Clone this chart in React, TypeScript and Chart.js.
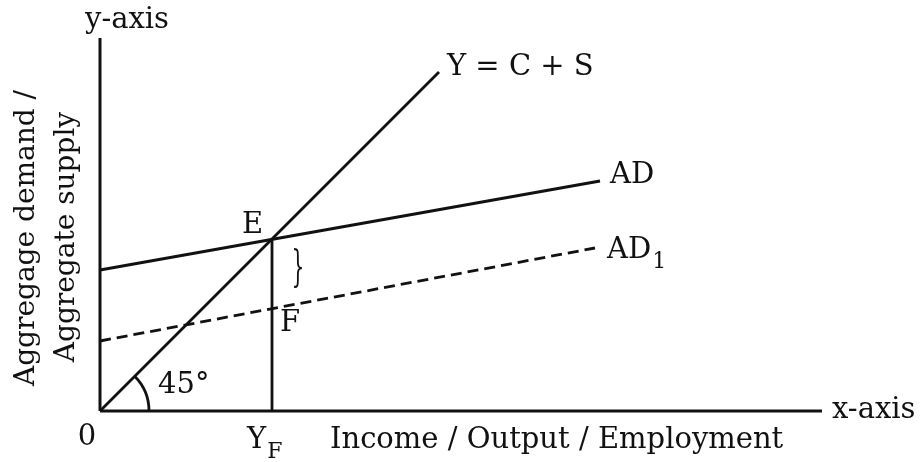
import React, { useEffect, useRef } from "react";
import { Chart, registerables } from "chart.js";

Chart.register(...registerables);

// Data in diagram units (origin at 0,0)
const yAxisLine = [{ x: 0, y: 0 }, { x: 0, y: 37.3 }];
const xAxisLine = [{ x: 0, y: 0 }, { x: 72.2, y: 0 }];
const supplyLine = [{ x: 0, y: 0 }, { x: 33.9, y: 33.9 }]; // Y = C + S (45°)
const adLine = [{ x: 0, y: 14.1 }, { x: 50.0, y: 23.0 }];
const ad1Line = [{ x: 0, y: 7.0 }, { x: 49.5, y: 16.3 }];
const yfLine = [{ x: 17.2, y: 0 }, { x: 17.2, y: 17.2 }];
const angleArcRadius = 4.9;
const angleDegrees = 45;

// Text labels
const labelTexts = ["y-axis", "Y = C + S", "AD", "AD", "E", "F", "45°", "0", "Y", "Income / Output / Employment", "x-axis"];
const labelSubs = ["", "", "", "1", "", "", "", "", "F", "", ""];
const labelX = [-1.5, 34.7, 51.0, 50.7, 14.2, 18.0, 5.8, -1.3, 14.7, 23.0, 73.2];
const labelY = [39.1, 34.4, 23.6, 16.1, 18.6, 8.8, 2.6, -2.6, -2.9, -2.9, 0.1];
const labelAlign = ["left", "left", "left", "left", "left", "left", "left", "center", "left", "left", "left"];
const bracePos = { x: 19.8, y: 14.1 };
const yTitleLines = ["Aggregage demand /", "Aggregate supply"];
const yTitleX = [-7.3, -3.3];
const yTitleY = [17.3, 17.4];

const FONT = "'DejaVu Serif', 'Liberation Serif', serif";
const FS = 29;

const annotations = {
  id: "annotations",
  afterDatasetsDraw(chart: any) {
    const { ctx, scales } = chart;
    const xs = scales.x;
    const ys = scales.y;
    const px = (v: number) => xs.getPixelForValue(v);
    const py = (v: number) => ys.getPixelForValue(v);
    ctx.save();
    // 45° angle arc
    const ox = px(0), oy = py(0);
    const r = px(angleArcRadius) - ox;
    ctx.beginPath();
    ctx.strokeStyle = "#111";
    ctx.lineWidth = 2.8;
    ctx.arc(ox, oy, r, -(angleDegrees * Math.PI) / 180, 0);
    ctx.stroke();

    ctx.fillStyle = "#111";
    ctx.textBaseline = "middle";
    for (let i = 0; i < labelTexts.length; i++) {
      ctx.font = `${FS}px ${FONT}`;
      ctx.textAlign = labelAlign[i];
      const x = px(labelX[i]);
      const y = py(labelY[i]);
      ctx.fillText(labelTexts[i], x, y);
      if (labelSubs[i]) {
        const w = ctx.measureText(labelTexts[i]).width;
        ctx.font = `${Math.round(FS * 0.75)}px ${FONT}`;
        ctx.textAlign = "left";
        ctx.fillText(labelSubs[i], x + w + 1, y + 12);
      }
    }

    // Brace
    ctx.save();
    ctx.translate(px(bracePos.x), py(bracePos.y));
    ctx.scale(0.7, 1.5);
    ctx.font = `${FS}px ${FONT}`;
    ctx.textAlign = "center";
    ctx.fillText("}", 0, 0);
    ctx.restore();

    // Rotated y title
    for (let i = 0; i < yTitleLines.length; i++) {
      ctx.save();
      ctx.translate(px(yTitleX[i]), py(yTitleY[i]));
      ctx.rotate(-Math.PI / 2);
      ctx.font = `28px ${FONT}`;
      ctx.textAlign = "center";
      ctx.textBaseline = "middle";
      ctx.fillText(yTitleLines[i], 0, 0);
      ctx.restore();
    }
    ctx.restore();
  },
};

export default function App() {
  const ref = useRef<HTMLCanvasElement | null>(null);
  useEffect(() => {
    if (!ref.current) return;
    const line = (data: any[], dash: number[] = [], width = 2.8) => ({
      data,
      showLine: true,
      borderColor: "#111",
      borderWidth: width,
      borderDash: dash,
      pointRadius: 0,
      fill: false,
      clip: false as any,
      tension: 0,
    });
    const chart = new Chart(ref.current, {
      type: "scatter",
      data: {
        datasets: [
          line(yAxisLine, [], 3),
          line(xAxisLine, [], 3),
          line(supplyLine),
          line(adLine),
          line(ad1Line, [11, 6]),
          line(yfLine),
        ],
      },
      options: {
        animation: false,
        responsive: false,
        layout: { padding: { left: 100, right: 100, top: 38, bottom: 51 } },
        plugins: { legend: { display: false }, tooltip: { enabled: false } },
        scales: {
          x: { type: "linear", min: 0, max: 72.2, display: false },
          y: { type: "linear", min: 0, max: 37.3, display: false },
        },
      },
      plugins: [annotations],
    });
    return () => chart.destroy();
  }, []);
  return (
    <div style={{ position: "fixed", left: 0, top: 0, width: 922, height: 462, background: "#fff" }}>
      <canvas ref={ref} width={922} height={462} style={{ width: 922, height: 462 }} />
    </div>
  );
}
